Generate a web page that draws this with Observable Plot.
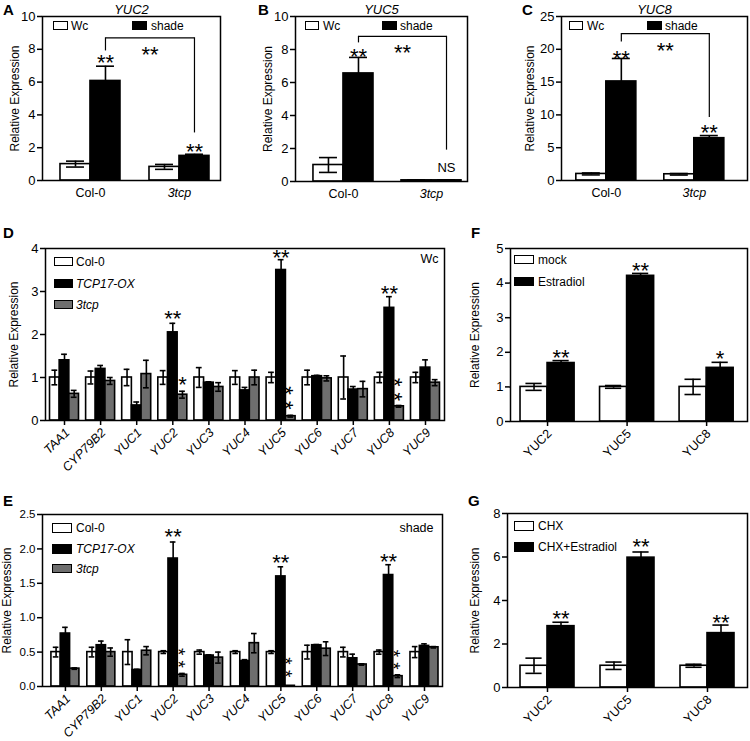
<!DOCTYPE html>
<html><head><meta charset="utf-8">
<script src="https://cdn.jsdelivr.net/npm/d3@7"></script>
<script src="https://cdn.jsdelivr.net/npm/@observablehq/plot@0.6"></script>
<style>
html,body{margin:0;padding:0;background:#fff;}
#fig{position:relative;width:750px;height:741px;overflow:hidden;font-family:"Liberation Sans",Arial,Helvetica,sans-serif;color:#000;background:#fff;}
.panel{position:absolute;}
.panel svg{overflow:visible;}
.panel g[aria-label="y-axis label"]{font-size:12px;}
.panel g[aria-label="y-axis tick"], .panel g[aria-label="x-axis tick"]{stroke-width:1.5px;}
.letter{position:absolute;font-weight:bold;font-size:15px;line-height:15px;}
.sw{position:absolute;box-sizing:border-box;border:1.5px solid #000;}
.lt{position:absolute;font-size:12px;line-height:14px;white-space:nowrap;}
</style></head><body><div id="fig"></div>
<script>
// ---------- data ----------
const groupsABC = ["Col-0", "3tcp"];
const yuc2Wc = [1.0, 0.83], yuc2WcErr = [0.18, 0.15];
const yuc2Shade = [6.07, 1.5], yuc2ShadeErr = [0.9, 0.1];
const yuc5Wc = [1.0, 0.07], yuc5WcErr = [0.45, 0.02];
const yuc5Shade = [6.55, 0.07], yuc5ShadeErr = [0.97, 0.02];
const yuc8Wc = [1.0, 0.95], yuc8WcErr = [0.15, 0.12];
const yuc8Shade = [15.1, 6.45], yuc8ShadeErr = [3.5, 0.4];

const genes = ["TAA1","CYP79B2","YUC1","YUC2","YUC3","YUC4","YUC5","YUC6","YUC7","YUC8","YUC9"];
const col0Wc = [1,1,1,1,1,1,1,1,1,1,1];
const col0WcErr = [0.17,0.15,0.19,0.16,0.23,0.16,0.12,0.17,0.5,0.12,0.12];
const tcpOxWc = [1.4,1.2,0.35,2.05,0.88,0.7,3.5,1.03,0.72,2.62,1.23];
const tcpOxWcErr = [0.14,0.08,0.08,0.21,0.02,0.07,0.24,0.02,0.07,0.26,0.18];
const tcp3Wc = [0.62,0.92,1.08,0.6,0.78,1.0,0.1,0.98,0.73,0.33,0.88];
const tcp3WcErr = [0.08,0.08,0.32,0.08,0.1,0.17,0.02,0.06,0.18,0.02,0.07];

const col0Sh = [0.5,0.5,0.5,0.5,0.5,0.5,0.5,0.5,0.5,0.5,0.5];
const col0ShErr = [0.07,0.07,0.18,0.02,0.03,0.02,0.02,0.1,0.07,0.03,0.08];
const tcpOxSh = [0.77,0.6,0.24,1.86,0.45,0.37,1.6,0.6,0.41,1.62,0.59];
const tcpOxShErr = [0.09,0.06,0.01,0.24,0.01,0.02,0.14,0.01,0.06,0.15,0.03];
const tcp3Sh = [0.26,0.5,0.52,0.17,0.42,0.63,0.01,0.55,0.32,0.15,0.57];
const tcp3ShErr = [0.01,0.06,0.06,0.02,0.08,0.14,0,0.1,0.01,0.02,0.01];

const genesFG = ["YUC2","YUC5","YUC8"];
const mockF = [1,1,1], mockFErr = [0.1,0.04,0.22];
const estF = [1.69,4.21,1.55], estFErr = [0.07,0.07,0.16];
const chxG = [1,1,1], chxGErr = [0.35,0.17,0.07];
const chxEstG = [2.82,5.97,2.5], chxEstGErr = [0.18,0.26,0.37];

// significance marks (s = series index; stack = two stars one above the other)
const sigA = [{g:"Col-0", s:1, y:7.5, t:"**"}, {g:"3tcp", s:1, y:2.1, t:"**"}];
const sigB = [{g:"Col-0", s:1, y:7.9, t:"**"}];
const nsB = [{g:"3tcp", s:1, y:0.8, t:"NS"}];
const sigC = [{g:"Col-0", s:1, y:19.3, t:"**"}, {g:"3tcp", s:1, y:8.1, t:"**"}];
const brA = {from:"Col-0", to:"3tcp", s:1, y:8.7, leftEnd:7.9, rightEnd:2.9, starY:8.0, t:"**"};
const brB = {from:"Col-0", to:"3tcp", s:1, y:8.8, leftEnd:8.4, rightEnd:1.9, starY:8.1, t:"**"};
const brC = {from:"Col-0", to:"3tcp", s:1, y:22.4, leftEnd:21.1, rightEnd:9.6, starY:20.6, t:"**"};
const sigD = [
  {g:"YUC2", s:1, y:2.49, t:"**"}, {g:"YUC2", s:2, y:0.95, t:"*"},
  {g:"YUC5", s:1, y:3.9, t:"**"}, {g:"YUC5", s:2, y:0.525, t:"* *", stack:true},
  {g:"YUC8", s:1, y:3.07, t:"**"}, {g:"YUC8", s:2, y:0.72, t:"* *", stack:true}];
const sigE = [
  {g:"YUC2", s:1, y:2.25, t:"**"}, {g:"YUC2", s:2, y:0.415, t:"* *", stack:true},
  {g:"YUC5", s:1, y:1.88, t:"**"}, {g:"YUC5", s:2, y:0.28, t:"* *", stack:true},
  {g:"YUC8", s:1, y:1.89, t:"**"}, {g:"YUC8", s:2, y:0.39, t:"* *", stack:true}];
const sigF = [{g:"YUC2", s:1, y:2.0, t:"**"}, {g:"YUC5", s:1, y:4.5, t:"**"}, {g:"YUC8", s:1, y:1.97, t:"*"}];
const sigG = [{g:"YUC2", s:1, y:3.4, t:"**"}, {g:"YUC5", s:1, y:6.7, t:"**"}, {g:"YUC8", s:1, y:3.2, t:"**"}];

const WHITE = "#ffffff", BLACK = "#000000", GREY = "#6e6e6e";
const FONT = '"Liberation Sans", Arial, Helvetica, sans-serif';
const STAR = 22, STARDY = 5.5;

// ---------- drawing ----------
const fig = document.getElementById("fig");

function grouped(cfg) {
  const {width, height, ml, mr, mt, mb, groups, series, yDomain, yTicks, yFormat, fontSize,
         labelOffset, pi, po, align, sig = [], ns = [], bracket, title, corner, xlab, stackSize = 22} = cfg;
  const xs = d3.scaleBand().domain(groups).range([ml, width - mr]).paddingInner(pi).paddingOuter(po).align(align);
  const bw = xs.bandwidth(), n = series.length, barW = bw / n, capW = barW * 0.6, capIn = (bw - capW) / 2;
  const off = i => (i - (n - 1) / 2) * barW;
  const rows = s => groups.map((g, j) => ({g, v: s.values[j], e: s.errors[j]}));
  const marks = [];
  series.forEach((s, i) => marks.push(Plot.barY(rows(s), {
    x: "g", y: "v", fill: s.fill, stroke: BLACK, strokeWidth: 1.6,
    insetLeft: i * barW, insetRight: (n - 1 - i) * barW})));
  series.forEach((s, i) => {
    const r = rows(s);
    marks.push(Plot.ruleX(r, {x: "g", y1: d => Math.max(0, d.v - d.e), y2: d => d.v + d.e, dx: off(i), stroke: BLACK, strokeWidth: 1.6}));
    marks.push(Plot.tickY(r, {x: "g", y: d => d.v + d.e, dx: off(i), insetLeft: capIn, insetRight: capIn, stroke: BLACK, strokeWidth: 1.6}));
    marks.push(Plot.tickY(r.filter(d => d.e > 0), {x: "g", y: d => Math.max(0, d.v - d.e), dx: off(i), insetLeft: capIn, insetRight: capIn, stroke: BLACK, strokeWidth: 1.6}));
  });
  if (bracket) {
    const b = [bracket], o = off(bracket.s);
    marks.push(Plot.link(b, {x1: "from", x2: "to", y1: "y", y2: "y", dx: o, stroke: BLACK, strokeWidth: 1.2}));
    marks.push(Plot.ruleX(b, {x: "from", y1: "y", y2: "leftEnd", dx: o, stroke: BLACK, strokeWidth: 1.2}));
    marks.push(Plot.ruleX(b, {x: "to", y1: "y", y2: "rightEnd", dx: o, stroke: BLACK, strokeWidth: 1.2}));
    marks.push(Plot.text(b, {x: "from", y: "starY", text: "t", dx: o + (xs(bracket.to) - xs(bracket.from)) / 2,
      dy: STARDY, fontSize: STAR, lineAnchor: "middle", fill: BLACK}));
  }
  series.forEach((s, i) => {
    const single = sig.filter(d => d.s === i && !d.stack);
    if (single.length) marks.push(Plot.text(single, {x: "g", y: "y", text: "t", dx: off(i), dy: STARDY, fontSize: STAR,
      lineAnchor: "middle", fill: BLACK}));
    const stacked = sig.filter(d => d.s === i && d.stack);
    if (stacked.length) marks.push(Plot.text(stacked, {x: "g", y: "y", text: "t", rotate: 90,
      dx: off(i) - stackSize * 0.25, fontSize: stackSize, textAnchor: "middle", lineAnchor: "middle", fill: BLACK}));
    const nn = ns.filter(d => d.s === i);
    if (nn.length) marks.push(Plot.text(nn, {x: "g", y: "y", text: "t", dx: off(i), fontSize: 13, lineAnchor: "middle", fill: BLACK}));
  });
  if (title) marks.push(Plot.text([title], {frameAnchor: "top", text: d => d, dy: -3, lineAnchor: "bottom", fontSize: 13, fontStyle: "italic", fill: BLACK}));
  if (corner) marks.push(Plot.text([corner.t], {frameAnchor: "top-right", text: d => d, dx: corner.dx, dy: corner.dy, textAnchor: "end", lineAnchor: "middle", fontSize: 12.5, fill: BLACK}));
  if (xlab.mode === "flat") {
    groups.forEach(g => marks.push(Plot.text([g], {x: d => d, text: d => d, frameAnchor: "bottom", dy: 8, lineAnchor: "top",
      fontSize: 12.5, fontStyle: xlab.italic.includes(g) ? "italic" : "normal", fill: BLACK})));
  } else {
    marks.push(Plot.text(groups, {x: d => d, text: d => d, frameAnchor: "bottom", dx: xlab.dx, dy: xlab.dy, rotate: -45,
      textAnchor: "end", lineAnchor: "middle", fontSize: xlab.fontSize, fontStyle: xlab.italicAll ? "italic" : "normal", fill: BLACK}));
  }
  marks.push(Plot.frame({stroke: BLACK, strokeWidth: 1.5}));
  return Plot.plot({
    width, height, marginLeft: ml, marginRight: mr, marginTop: mt, marginBottom: mb,
    style: {fontFamily: FONT, fontSize: fontSize + "px", color: BLACK, background: "transparent", overflow: "visible"},
    x: {type: "band", domain: groups, paddingInner: pi, paddingOuter: po, align, round: false,
        axis: xlab.ticks ? "bottom" : null, tickSize: 5, tickPadding: 2, tickFormat: () => "", label: null},
    y: {domain: yDomain, ticks: yTicks, tickSize: 5, tickPadding: 2, tickFormat: yFormat,
        label: "Relative Expression", labelAnchor: "center", labelOffset, labelArrow: "none"},
    marks
  });
}

function place(left, top, node) {
  const d = document.createElement("div");
  d.className = "panel"; d.style.left = left + "px"; d.style.top = top + "px";
  d.appendChild(node); fig.appendChild(d);
}
function letter(t, left, top) {
  const d = document.createElement("div");
  d.className = "letter"; d.textContent = t; d.style.left = left + "px"; d.style.top = top + "px";
  fig.appendChild(d);
}
function legend(items) {
  items.forEach(it => {
    const s = document.createElement("div");
    s.className = "sw";
    Object.assign(s.style, {left: it.x + "px", top: it.y + "px", width: it.w + "px", height: it.h + "px", background: it.fill});
    fig.appendChild(s);
    const t = document.createElement("div");
    t.className = "lt"; t.textContent = it.text;
    Object.assign(t.style, {left: it.tx + "px", top: (it.y + it.h / 2 - 7) + "px", fontStyle: it.italic ? "italic" : "normal"});
    fig.appendChild(t);
  });
}

const flat = {mode: "flat", italic: ["3tcp"], ticks: false};
const intFmt = d3.format("d");

place(0, 0, grouped({width: 232, height: 215, ml: 42, mr: 12, mt: 16, mb: 35, groups: groupsABC,
  series: [{values: yuc2Wc, errors: yuc2WcErr, fill: WHITE}, {values: yuc2Shade, errors: yuc2ShadeErr, fill: BLACK}],
  yDomain: [0, 10], yTicks: [0, 2, 4, 6, 8, 10], yFormat: intFmt, fontSize: 13, labelOffset: 32,
  pi: 0.326, po: 0.163, align: 0.62, sig: sigA, bracket: brA, title: "YUC2", xlab: flat}));

place(250, 0, grouped({width: 225, height: 215, ml: 45, mr: 8, mt: 16, mb: 34, groups: groupsABC,
  series: [{values: yuc5Wc, errors: yuc5WcErr, fill: WHITE}, {values: yuc5Shade, errors: yuc5ShadeErr, fill: BLACK}],
  yDomain: [0, 10], yTicks: [0, 2, 4, 6, 8, 10], yFormat: intFmt, fontSize: 13, labelOffset: 32,
  pi: 0.318, po: 0.136, align: 0.75, sig: sigB, ns: nsB, bracket: brB, title: "YUC5", xlab: flat}));

place(500, 0, grouped({width: 250, height: 215, ml: 61, mr: 3, mt: 16, mb: 35, groups: groupsABC,
  series: [{values: yuc8Wc, errors: yuc8WcErr, fill: WHITE}, {values: yuc8Shade, errors: yuc8ShadeErr, fill: BLACK}],
  yDomain: [0, 25], yTicks: [0, 5, 10, 15, 20, 25], yFormat: intFmt, fontSize: 13, labelOffset: 36,
  pi: 0.318, po: 0.216, align: 0.39, sig: sigC, bracket: brC, title: "YUC8", xlab: flat}));

place(0, 225, grouped({width: 450, height: 250, ml: 45, mr: 6, mt: 23, mb: 55, groups: genes,
  series: [{values: col0Wc, errors: col0WcErr, fill: WHITE}, {values: tcpOxWc, errors: tcpOxWcErr, fill: BLACK},
           {values: tcp3Wc, errors: tcp3WcErr, fill: GREY}],
  yDomain: [0, 4], yTicks: [0, 1, 2, 3, 4], yFormat: intFmt, fontSize: 13, labelOffset: 36,
  pi: 0.197, po: 0.125, align: 0.5, sig: sigD, stackSize: 22, corner: {t: "Wc", dx: -6, dy: 10},
  xlab: {mode: "rot", ticks: true, dx: 3, dy: 10, fontSize: 12.5, italicAll: true}}));

place(0, 490, grouped({width: 450, height: 251, ml: 42, mr: 8, mt: 24, mb: 55, groups: genes,
  series: [{values: col0Sh, errors: col0ShErr, fill: WHITE}, {values: tcpOxSh, errors: tcpOxShErr, fill: BLACK},
           {values: tcp3Sh, errors: tcp3ShErr, fill: GREY}],
  yDomain: [0, 2.5], yTicks: [0, 0.5, 1, 1.5, 2, 2.5], yFormat: d3.format(".1f"), fontSize: 11.5, labelOffset: 40,
  pi: 0.22, po: 0.18, align: 0.69, sig: sigE, stackSize: 19, corner: {t: "shade", dx: -9, dy: 13},
  xlab: {mode: "rot", ticks: true, dx: 3, dy: 10, fontSize: 12.5, italicAll: true}}));

place(465, 225, grouped({width: 285, height: 250, ml: 45, mr: 3, mt: 23, mb: 54, groups: genesFG,
  series: [{values: mockF, errors: mockFErr, fill: WHITE}, {values: estF, errors: estFErr, fill: BLACK}],
  yDomain: [0, 5], yTicks: [0, 1, 2, 3, 4, 5], yFormat: intFmt, fontSize: 13, labelOffset: 40,
  pi: 0.32, po: 0.15, align: 0.42, sig: sigF,
  xlab: {mode: "rot", ticks: true, dx: 2, dy: 10, fontSize: 12.5, italicAll: false}}));

place(465, 490, grouped({width: 285, height: 251, ml: 42, mr: 3, mt: 23, mb: 54, groups: genesFG,
  series: [{values: chxG, errors: chxGErr, fill: WHITE}, {values: chxEstG, errors: chxEstGErr, fill: BLACK}],
  yDomain: [0, 8], yTicks: [0, 2, 4, 6, 8], yFormat: intFmt, fontSize: 13, labelOffset: 37,
  pi: 0.325, po: 0.1625, align: 0.5, sig: sigG,
  xlab: {mode: "rot", ticks: true, dx: 2, dy: 10, fontSize: 12.5, italicAll: false}}));

letter("A", 3, 2); letter("B", 258, 2); letter("C", 522, 2);
letter("D", 3, 225); letter("E", 3, 493); letter("F", 471, 225); letter("G", 468, 493);

legend([
  {x: 53, y: 21, w: 15, h: 9, fill: WHITE, text: "Wc", tx: 71},
  {x: 132, y: 21, w: 15, h: 9, fill: BLACK, text: "shade", tx: 151},
  {x: 305, y: 21, w: 14, h: 9, fill: WHITE, text: "Wc", tx: 323},
  {x: 382, y: 21, w: 15, h: 9, fill: BLACK, text: "shade", tx: 400},
  {x: 569, y: 21, w: 14, h: 9, fill: WHITE, text: "Wc", tx: 587},
  {x: 647, y: 21, w: 15, h: 9, fill: BLACK, text: "shade", tx: 665},
  {x: 54, y: 257, w: 19, h: 9, fill: WHITE, text: "Col-0", tx: 76},
  {x: 54, y: 279, w: 19, h: 9, fill: BLACK, text: "TCP17-OX", tx: 76, italic: true},
  {x: 54, y: 300, w: 19, h: 9, fill: GREY, text: "3tcp", tx: 76, italic: true},
  {x: 52, y: 523, w: 20, h: 10, fill: WHITE, text: "Col-0", tx: 76},
  {x: 52, y: 544, w: 20, h: 10, fill: BLACK, text: "TCP17-OX", tx: 76, italic: true},
  {x: 52, y: 564, w: 20, h: 9, fill: GREY, text: "3tcp", tx: 76, italic: true},
  {x: 514, y: 255, w: 20, h: 9, fill: WHITE, text: "mock", tx: 538},
  {x: 514, y: 277, w: 20, h: 9, fill: BLACK, text: "Estradiol", tx: 538},
  {x: 514, y: 521, w: 20, h: 10, fill: WHITE, text: "CHX", tx: 538},
  {x: 514, y: 542, w: 20, h: 10, fill: BLACK, text: "CHX+Estradiol", tx: 538}
]);
</script></body></html>
